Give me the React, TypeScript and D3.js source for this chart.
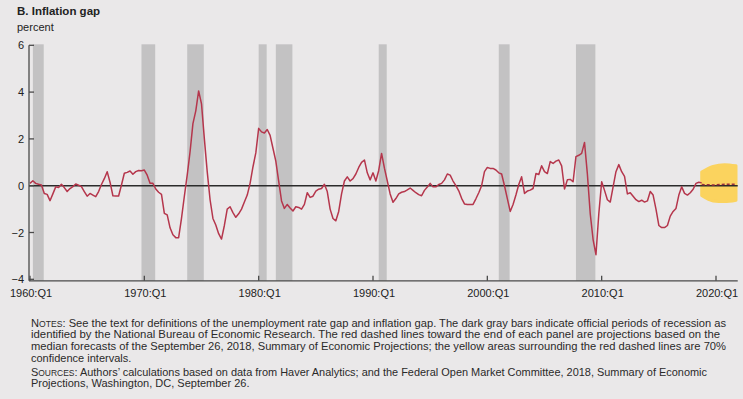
import { useRef, useEffect } from "react";
import * as d3 from "d3";

// inflation gap, percent, quarterly from 1960:Q1
const gap1960s = [
  0.1, 0.21, 0.1, 0.06, 0.03, -0.33, -0.37, -0.64, -0.35, -0.05,
  -0.08, 0.06, -0.08, -0.25, -0.12, -0.04, 0.07, 0.02, -0.04, -0.25,
  -0.45, -0.33, -0.4, -0.47, -0.25, 0.05, 0.3, 0.6, 0.15, -0.43,
  -0.44, -0.44, 0.03, 0.53, 0.57, 0.63, 0.49, 0.6, 0.65, 0.64,
];
const gap1970s = [
  0.67, 0.45, 0.1, 0.1, -0.14, -0.28, -0.37, -1.18, -1.25, -1.8,
  -2.1, -2.22, -2.22, -1.4, -0.45, 0.45, 1.45, 2.65, 3.2, 4.05,
  3.5, 2.0, 0.6, -0.6, -1.4, -1.68, -2.05, -2.28, -1.7, -1.0,
  -0.9, -1.15, -1.35, -1.2, -1.0, -0.7, -0.4, 0.1, 0.8, 1.4,
];
const gap1980s = [
  2.45, 2.3, 2.25, 2.4, 2.15, 1.6, 1.05, 0.2, -0.65, -0.97,
  -0.8, -0.95, -1.08, -0.9, -0.93, -1.0, -0.8, -0.3, -0.5, -0.45,
  -0.23, -0.15, -0.12, 0.06, -0.25, -1.0, -1.4, -1.5, -1.1, -0.35,
  0.2, 0.38, 0.2, 0.3, 0.5, 0.78, 1.0, 1.1, 0.55, 0.25,
];
const gap1990s = [
  0.55, 0.2, 0.65, 1.38, 0.75, 0.2, -0.35, -0.71, -0.55, -0.35,
  -0.28, -0.25, -0.18, -0.1, -0.2, -0.3, -0.38, -0.43, -0.2, -0.06,
  0.1, -0.05, -0.05, 0.05, 0.1, 0.25, 0.5, 0.45, 0.2, 0.0,
  -0.22, -0.54, -0.78, -0.8, -0.8, -0.8, -0.56, -0.3, 0.0, 0.6,
];
const gap2000s = [
  0.78, 0.74, 0.74, 0.67, 0.55, 0.5, 0.0, -0.55, -1.1, -0.8,
  -0.4, 0.05, 0.38, -0.33, -0.23, -0.19, -0.12, 0.52, 0.48, 0.85,
  0.6, 0.52, 1.03, 0.95, 1.05, 1.1, 0.85, -0.14, 0.25, 0.27,
  0.17, 1.24, 1.3, 1.38, 1.85, 0.5, -1.2, -2.3, -2.95, -1.2,
];
const gap2010s = [
  0.17, -0.2, -0.6, -0.7, -0.05, 0.6, 0.9, 0.6, 0.4, -0.35,
  -0.3, -0.45, -0.6, -0.68, -0.62, -0.7, -0.65, -0.25, -0.4, -1.0,
  -1.7, -1.79, -1.79, -1.7, -1.3, -1.1, -0.97, -0.4, -0.05, -0.33,
  -0.4, -0.3, -0.15, 0.1, 0.15, 0.12,
];

// NBER recessions, peak quarter to trough quarter
const recessions = [
  ["1960:Q2", "1961:Q1"],
  ["1969:Q4", "1970:Q4"],
  ["1973:Q4", "1975:Q1"],
  ["1980:Q1", "1980:Q3"],
  ["1981:Q3", "1982:Q4"],
  ["1990:Q3", "1991:Q1"],
  ["2001:Q1", "2001:Q4"],
  ["2007:Q4", "2009:Q2"],
];

// SEP projections and 70% band
const projQuarters = ["2018:Q4", "2019:Q4", "2020:Q4", "2021:Q4"];
const projMedian = [0.05, 0.03, 0.06, 0.06];
const projUpper = [0.58, 0.82, 0.9, 0.85];
const projLower = [-0.42, -0.65, -0.68, -0.62];

const xTickLabels = ["1960:Q1", "1970:Q1", "1980:Q1", "1990:Q1", "2000:Q1", "2010:Q1", "2020:Q1"];
const yTicks = [-4, -2, 0, 2, 4, 6];

const toYear = (label: string) => {
  const [y, q] = label.split(":Q");
  return +y + (+q - 1) / 4;
};

export default function App() {
  const svgRef = useRef<SVGSVGElement>(null);

  useEffect(() => {
    const width = 743;
    const height = 399;
    const font = "'Liberation Sans', Arial, Helvetica, sans-serif";

    const svg = d3.select(svgRef.current)
      .attr("width", width)
      .attr("height", height)
      .style("position", "absolute")
      .style("left", 0)
      .style("top", 0)
      .style("font-family", font);
    svg.selectAll("*").remove();

    svg.append("rect").attr("width", width).attr("height", height).attr("fill", "#eae8e9");

    const series = [...gap1960s, ...gap1970s, ...gap1980s, ...gap1990s, ...gap2000s, ...gap2010s]
      .map((v, i) => ({ year: 1960 + i / 4, v }));

    const xScale = d3.scaleLinear().domain([1960, 2020]).range([30, 716]);
    const yScale = d3.scaleLinear().domain([-4, 6]).range([279.3, 45.3]);
    const axisY = yScale(-4) + 1.5;
    const xEnd = xScale(2021.9);

    // recession bars
    svg.append("g")
      .selectAll("rect")
      .data(recessions)
      .join("rect")
      .attr("x", d => xScale(toYear(d[0])))
      .attr("width", d => xScale(toYear(d[1]) + 0.2) - xScale(toYear(d[0])))
      .attr("y", yScale(6) - 1)
      .attr("height", axisY - yScale(6) + 1)
      .attr("fill", "#c3c2c3");

    // projection band
    const proj = projQuarters.map((q, i) => ({
      year: toYear(q), m: projMedian[i], hi: projUpper[i], lo: projLower[i],
    }));
    const band = d3.area<any>()
      .x(d => xScale(d.year))
      .y0(d => yScale(d.lo))
      .y1(d => yScale(d.hi))
      .curve(d3.curveMonotoneX);
    svg.append("path")
      .attr("d", band(proj))
      .attr("fill", "#fbd35e")
      .attr("stroke", "#fbd35e")
      .attr("stroke-width", 3)
      .attr("stroke-linejoin", "round");

    // zero line
    svg.append("line")
      .attr("x1", 29).attr("x2", xEnd)
      .attr("y1", yScale(0)).attr("y2", yScale(0))
      .attr("stroke", "#2b2b2b")
      .attr("stroke-width", 1.4);

    // inflation gap line
    const line = d3.line<any>()
      .x(d => xScale(d.year))
      .y(d => yScale(d.v));
    svg.append("path")
      .attr("d", line(series))
      .attr("fill", "none")
      .attr("stroke", "#b5364c")
      .attr("stroke-width", 1.5)
      .attr("stroke-linejoin", "round");

    // projected median
    svg.append("path")
      .attr("d", line(proj.map(d => ({ year: d.year, v: d.m }))))
      .attr("fill", "none")
      .attr("stroke", "#9e2f3e")
      .attr("stroke-width", 1.5)
      .attr("stroke-dasharray", "3,2");

    // axes
    const axis = svg.append("g").attr("stroke", "#4a4a4a").attr("stroke-width", 1.3);
    axis.append("line").attr("x1", 29).attr("x2", 29).attr("y1", yScale(6)).attr("y2", axisY);
    axis.append("line").attr("x1", 29).attr("x2", xEnd).attr("y1", axisY).attr("y2", axisY);

    axis.selectAll(".yt")
      .data(yTicks)
      .join("line")
      .attr("x1", 29).attr("x2", 34)
      .attr("y1", d => yScale(d)).attr("y2", d => yScale(d));

    const xTicks = xTickLabels.map(toYear);
    axis.selectAll(".xt")
      .data(xTicks)
      .join("line")
      .attr("x1", d => xScale(d)).attr("x2", d => xScale(d))
      .attr("y1", axisY).attr("y2", axisY - 5);

    svg.append("g")
      .selectAll("text")
      .data(yTicks)
      .join("text")
      .attr("x", 24)
      .attr("y", d => yScale(d) + 4)
      .attr("text-anchor", "end")
      .attr("font-size", 11)
      .attr("fill", "#222")
      .text(d => (d < 0 ? "\u2212" + Math.abs(d) : String(d)));

    svg.append("g")
      .selectAll("text")
      .data(xTickLabels)
      .join("text")
      .attr("x", d => xScale(toYear(d)) + 1)
      .attr("y", 297)
      .attr("text-anchor", "middle")
      .attr("font-size", 11)
      .attr("fill", "#222")
      .text(d => d);

    // titles
    svg.append("text")
      .attr("x", 17).attr("y", 15)
      .attr("font-size", 11.5)
      .attr("font-weight", "bold")
      .attr("fill", "#222")
      .text("B. Inflation gap");
    svg.append("text")
      .attr("x", 17).attr("y", 31)
      .attr("font-size", 11)
      .attr("fill", "#222")
      .text("percent");

    // notes
    const notes = svg.append("g").attr("font-size", 11).attr("fill", "#2a2a2a");
    const addLine = (y: number, parts: [string, boolean][], len?: number) => {
      const t = notes.append("text").attr("x", 31).attr("y", y);
      if (len) t.attr("textLength", len).attr("lengthAdjust", "spacingAndGlyphs");
      parts.forEach(([s, small]) => {
        const ts = t.append("tspan").text(s);
        if (small) ts.attr("font-size", 8.5);
      });
    };
    addLine(326.5, [["N", false], ["OTES", true], [": See the text for definitions of the unemployment rate gap and inflation gap. The dark gray bars indicate official periods of recession as", false]], 695);
    addLine(338.2, [["identified by the National Bureau of Economic Research. The red dashed lines toward the end of each panel are projections based on the", false]], 689);
    addLine(350, [["median forecasts of the September 26, 2018, Summary of Economic Projections; the yellow areas surrounding the red dashed lines are 70%", false]], 695);
    addLine(361.5, [["confidence intervals.", false]]);
    addLine(375.5, [["S", false], ["OURCES", true], [": Authors\u2019 calculations based on data from Haver Analytics; and the Federal Open Market Committee, 2018, Summary of Economic", false]], 676);
    addLine(387.3, [["Projections, Washington, DC, September 26.", false]]);
  }, []);

  return <svg ref={svgRef}></svg>;
}
